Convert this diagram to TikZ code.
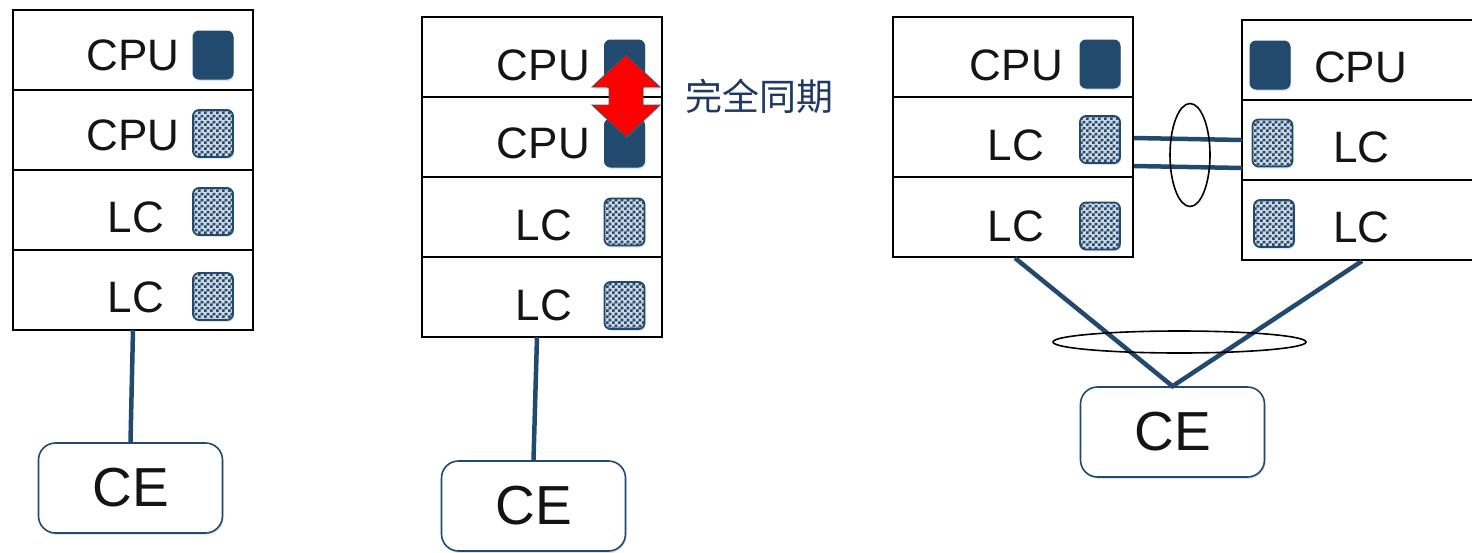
\documentclass[tikz,border=0pt]{standalone}
\usepackage{fontspec}
\setmainfont{Liberation Sans}
\newfontfamily\cjk{Noto Sans CJK SC}
\usetikzlibrary{shadows,patterns}

\definecolor{navy}{HTML}{22496E}
\definecolor{labelblue}{HTML}{1F3864}
\definecolor{arrowedge}{HTML}{3F556B}

% fine checkerboard used for the line-card chips
\pgfdeclarepatternformonly{chk}{\pgfpointorigin}{\pgfqpoint{6pt}{6pt}}{\pgfqpoint{6pt}{6pt}}{%
  \pgfpathrectangle{\pgfpointorigin}{\pgfqpoint{3pt}{3pt}}%
  \pgfpathrectangle{\pgfqpoint{3pt}{3pt}}{\pgfqpoint{3pt}{3pt}}%
  \pgfusepath{fill}}

\tikzset{
  slot/.style={draw=black, line width=2pt, minimum width=240pt, minimum height=80pt,
    inner sep=0pt, outer sep=0pt},
  softshadow/.style={drop shadow={shadow xshift=1.2pt, shadow yshift=-2pt, opacity=0.22}},
  cpuchip/.style={softshadow, fill=navy, draw=navy, line width=1pt, rounded corners=6pt,
    minimum width=40pt, minimum height=48pt, inner sep=0pt},
  lcchip/.style={softshadow, preaction={fill=navy!22}, pattern=chk, pattern color=navy,
    draw=navy, line width=1.8pt, rounded corners=6pt,
    minimum width=40pt, minimum height=47pt, inner sep=0pt},
  lbl/.style={font=\fontsize{44}{50}\selectfont, text=black!92, inner sep=0pt},
  cebox/.style={softshadow, fill=white, draw=navy, line width=1.6pt, rounded corners=17pt,
    minimum width=184pt, minimum height=90pt, inner sep=0pt,
    font=\fontsize{55}{60}\selectfont, text=black!92},
  link/.style={draw=navy, line width=4.5pt},
  bundle/.style={draw=black, line width=1.6pt},
  syncarrow/.style={fill=red, draw=arrowedge, line width=0.8pt, line join=miter,
    drop shadow={shadow xshift=1pt, shadow yshift=-1.5pt, opacity=0.25}},
}

\begin{document}
\begin{tikzpicture}[x=1pt, y=-1pt]
\useasboundingbox (0,0) rectangle (1472,552);

% ---------- single router: active and standby CPU ----------
\node[slot] (a1) at (133,50) {};
\node[slot] (a2) at (133,130) {};
\node[slot] (a3) at (133,210) {};
\node[slot] (a4) at (133,290) {};
\node[cpuchip] (ac1) at (213,55) {};
\node[lcchip]  (ac2) at (213,133.5) {};
\node[lcchip]  (ac3) at (213,211.5) {};
\node[lcchip]  (ac4) at (213,296.5) {};
\node[lbl, anchor=base east] (at1) at (179.5,70) {CPU};
\node[lbl, anchor=base east] (at2) at (179.5,150) {CPU};
\node[lbl, anchor=base east] (at3) at (164,232) {LC};
\node[lbl, anchor=base east] (at4) at (164,312) {LC};
\node[cebox] (ceA) at (130.5,488) {CE};
\coordinate (aout) at (133,330);
\draw[link] (aout) -- (ceA.north);

% ---------- single router: both CPUs fully synchronised ----------
\node[slot] (b1) at (541.5,57) {};
\node[slot] (b2) at (541.5,137) {};
\node[slot] (b3) at (541.5,217) {};
\node[slot] (b4) at (541.5,297) {};
\node[cpuchip] (bc1) at (624.5,64) {};
\node[cpuchip] (bc2) at (624.5,143) {};
\node[lcchip]  (bc3) at (624.5,222) {};
\node[lcchip]  (bc4) at (624.5,305.5) {};
\node[lbl, anchor=base east] (bt1) at (590,80) {CPU};
\node[lbl, anchor=base east] (bt2) at (590,158) {CPU};
\node[lbl, anchor=base east] (bt3) at (572,240) {LC};
\node[lbl, anchor=base east] (bt4) at (572,320) {LC};
\draw[syncarrow] (626,55) -- (660,87) -- (643,87) -- (643,105) -- (660,105)
  -- (626,137) -- (592,105) -- (609,105) -- (609,87) -- (592,87) -- cycle;
\node[font=\cjk\fontsize{37}{40}\selectfont, text=labelblue, inner sep=0pt,
  anchor=base west] (sync) at (685,110.5) {完全同期};
\node[cebox] (ceB) at (533.5,506) {CE};
\coordinate (bout) at (537,337);
\draw[link] (bout) -- (ceB.north);

% ---------- two routers bundled towards one CE ----------
\node[slot] (c1) at (1013,57) {};
\node[slot] (c2) at (1013,137) {};
\node[slot] (c3) at (1013,217) {};
\node[cpuchip] (cc1) at (1100,64) {};
\node[lcchip]  (cc2) at (1100,139.5) {};
\node[lcchip]  (cc3) at (1100,226) {};
\node[lbl, anchor=base east] (ct1) at (1063,80) {CPU};
\node[lbl, anchor=base east] (ct2) at (1044,160) {LC};
\node[lbl, anchor=base east] (ct3) at (1044,241) {LC};

\node[slot] (d1) at (1362,60) {};
\node[slot] (d2) at (1362,140) {};
\node[slot] (d3) at (1362,220) {};
\node[cpuchip] (dc1) at (1270,65) {};
\node[lcchip]  (dc2) at (1272.5,143) {};
\node[lcchip]  (dc3) at (1274,223.5) {};
\node[lbl, anchor=base west] (dt1) at (1314,82) {CPU};
\node[lbl, anchor=base west] (dt2) at (1333,162) {LC};
\node[lbl, anchor=base west] (dt3) at (1333,242) {LC};

% inter-chassis links between the line cards
\coordinate (l1a) at (1134,138);
\coordinate (l1b) at (1242,140);
\coordinate (l2a) at (1134,166);
\coordinate (l2b) at (1242,168);
\draw[link] (l1a) -- (l1b);
\draw[link] (l2a) -- (l2b);
\draw[bundle] (1190,155) ellipse [x radius=20pt, y radius=51.5pt];

% uplinks to the CE
\node[cebox] (ceC) at (1172.5,432) {CE};
\coordinate (cout) at (1015,258);
\coordinate (dout) at (1362,261);
\draw[link, line join=miter] (cout) -- (ceC.north) -- (dout);
\draw[bundle] (1179.5,342) ellipse [x radius=126.5pt, y radius=11pt];
\end{tikzpicture}
\end{document}
